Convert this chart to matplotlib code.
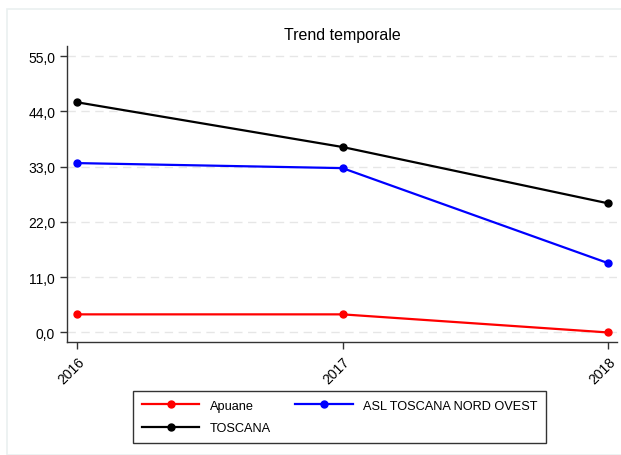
import matplotlib
matplotlib.use("Agg")
import matplotlib.pyplot as plt
from matplotlib.ticker import FuncFormatter, FixedLocator
from matplotlib.patches import Rectangle

plt.rcParams['font.family'] = ['Liberation Sans', 'DejaVu Sans']

years = ["2016", "2017", "2018"]
apuane = [3.6, 3.6, 0.0]
asl = [33.7, 32.7, 13.8]
toscana = [45.8, 36.9, 25.7]
yticks = [0, 11, 22, 33, 44, 55]

W, H = 621, 456
fig = plt.figure(figsize=(W / 100, H / 100), dpi=100)

# faint outer panel border
fig.patches.append(Rectangle((7 / W, 0), 1, 1 - 10 / H, transform=fig.transFigure,
                             fill=False, edgecolor='#eaf0f0', linewidth=1.2))

ax = fig.add_axes([67 / W, 1 - 343 / H, (617 - 67) / W, (343 - 47) / H])
x = list(range(len(years)))

l1, = ax.plot(x, apuane, color='#ff0000', lw=1.6, marker='o', ms=5, label='Apuane')
l2, = ax.plot(x, asl, color='#0000ff', lw=1.6, marker='o', ms=5, label='ASL TOSCANA NORD OVEST')
l3, = ax.plot(x, toscana, color='#000000', lw=1.6, marker='o', ms=5, label='TOSCANA')

ax.set_xlim(-0.038, 2.034)
ax.set_ylim(-1.9, 57.0)
ax.yaxis.set_major_locator(FixedLocator(yticks))
ax.yaxis.set_major_formatter(FuncFormatter(lambda v, p: f"{v:.1f}".replace('.', ',')))
ax.set_xticks(x)
ax.set_xticklabels(years, rotation=45, ha='right', rotation_mode='anchor')

ax.grid(axis='y', color='#e6e6e6', linestyle=(0, (6, 4)), linewidth=1)
ax.set_axisbelow(True)
for s in ['top', 'right']:
    ax.spines[s].set_visible(False)
for s in ['left', 'bottom']:
    ax.spines[s].set_color('#333333')
    ax.spines[s].set_linewidth(1.0)
ax.tick_params(axis='both', colors='#333333', labelcolor='black', labelsize=10, length=5, width=1)

ax.set_title('Trend temporale', fontsize=11.5, pad=5)

leg = fig.legend([l1, l3, l2], ['Apuane', 'TOSCANA', 'ASL TOSCANA NORD OVEST'],
                 loc='upper left', bbox_to_anchor=(133 / W, 1 - 392 / H), borderaxespad=0,
                 ncol=2, fontsize=9.2, frameon=True, fancybox=False, edgecolor='black',
                 handlelength=4.5, handletextpad=0.8, columnspacing=1.9,
                 borderpad=0.7, labelspacing=0.8)
leg.get_frame().set_linewidth(1.0)

fig.savefig('out.png', dpi=100)
